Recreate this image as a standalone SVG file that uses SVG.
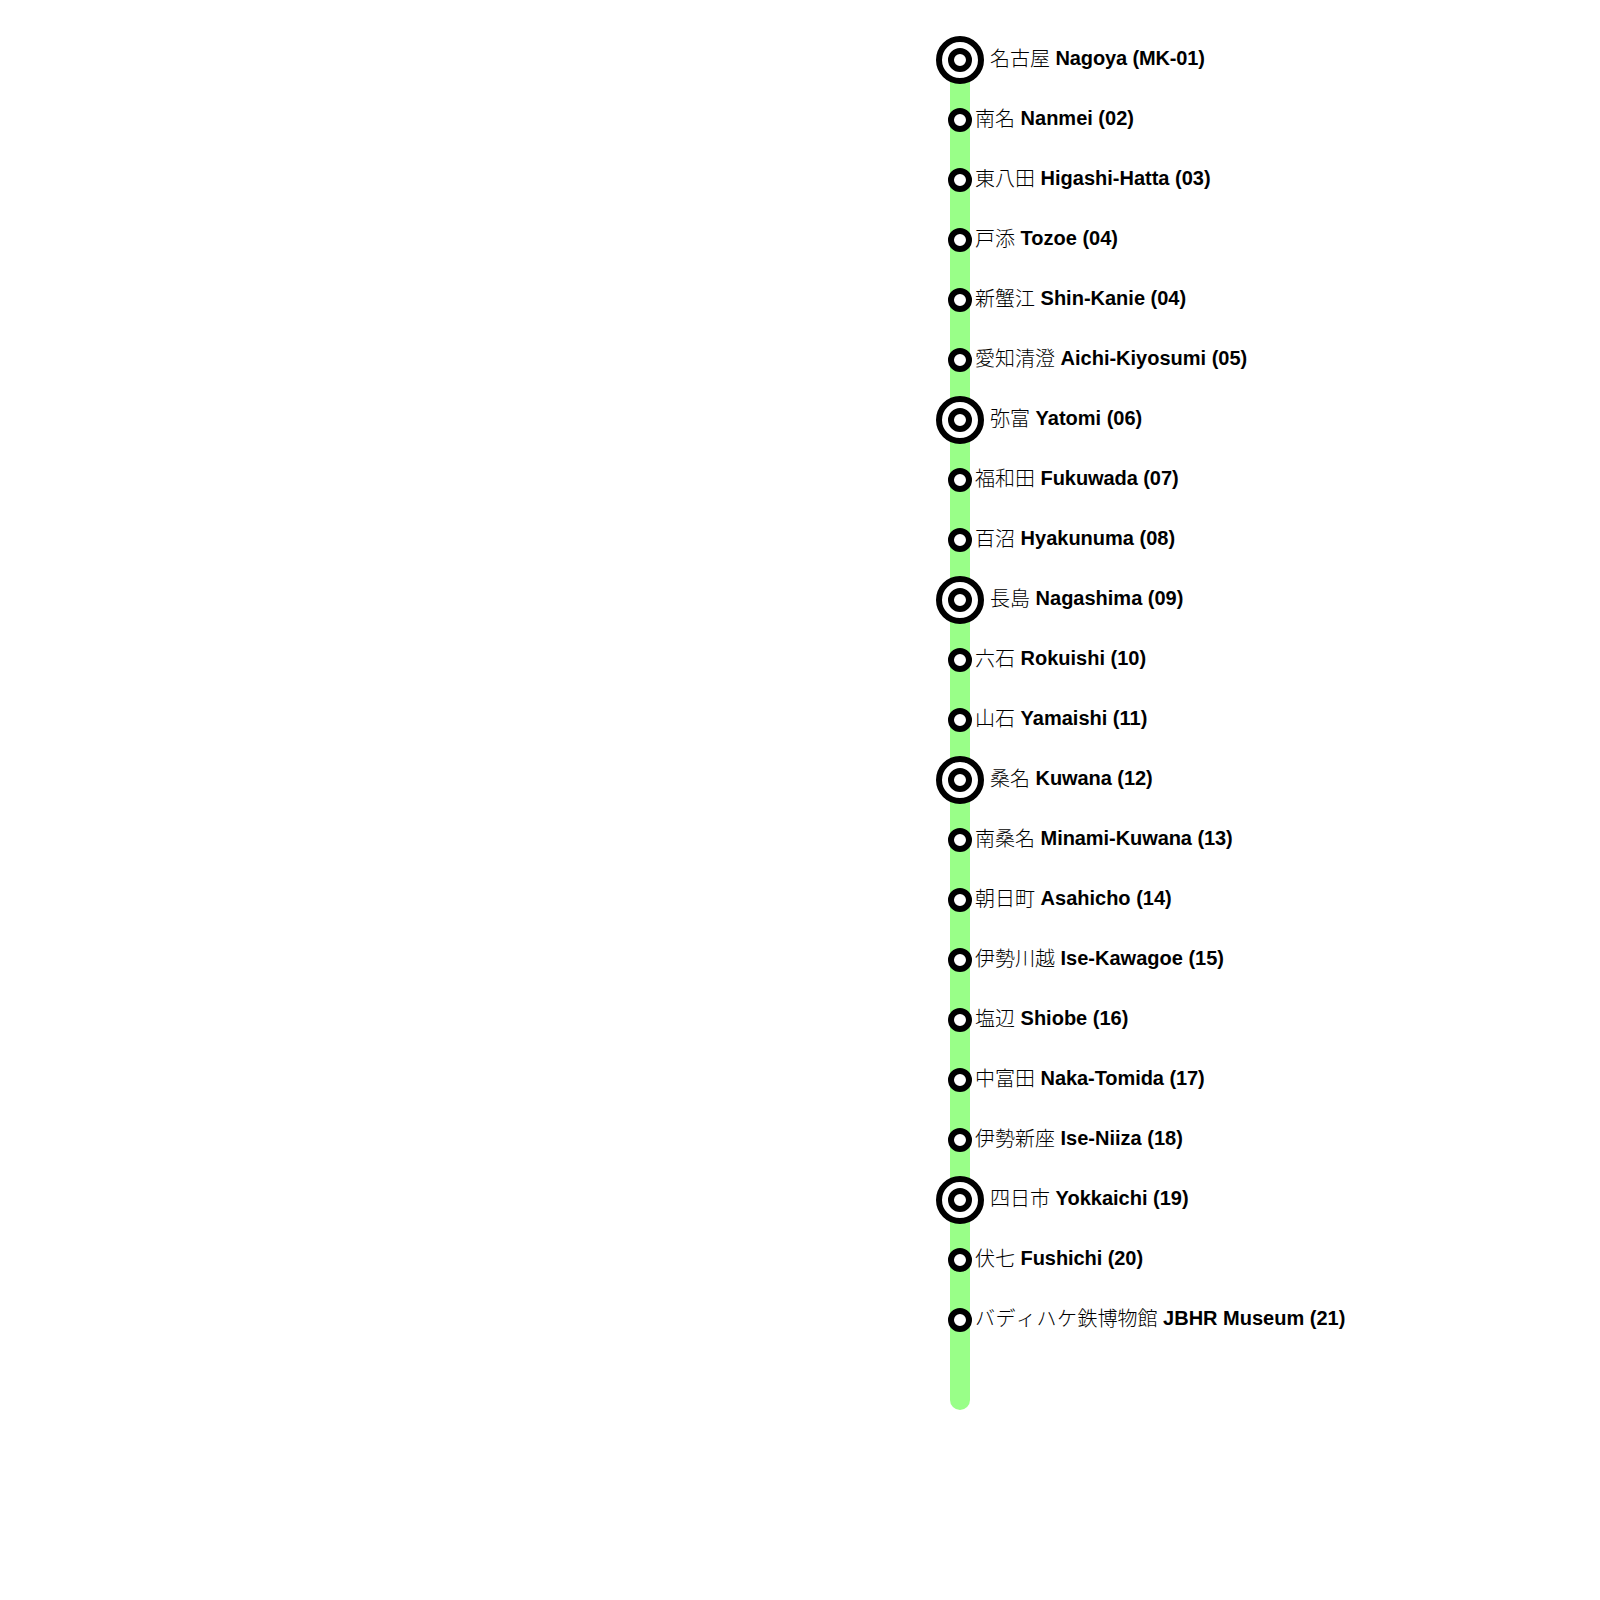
<svg xmlns="http://www.w3.org/2000/svg" width="1600" height="1600" viewBox="0 0 1600 1600">
<style>
.line{fill:none;stroke:#9f8;stroke-width:20;stroke-linecap:round}
.ring{fill:#fff;stroke:#000;stroke-width:6}
.label{font-family:"Liberation Sans","Noto Sans CJK JP",sans-serif;font-size:20px;fill:#000}
.ja{font-family:"Noto Sans CJK JP",sans-serif;font-weight:300;font-kerning:none}
.en{font-weight:bold}
.t1{letter-spacing:-.07px}
.t2{letter-spacing:-.14px}
</style>
<rect width="1600" height="1600" fill="#fff"/>
<g id="connectors"><path class="line" d="M960 60V1400"/></g>
<g id="s01"><circle class="ring" cx="960" cy="60" r="21"/><circle class="ring" cx="960" cy="60" r="9"/><text class="label" x="990" y="65"><tspan class="ja" dy="1">名古屋</tspan> <tspan class="en t2" dy="-1">Nagoya (MK-01)</tspan></text></g>
<g id="s02"><circle class="ring" cx="960" cy="120" r="9"/><text class="label" x="975" y="125"><tspan class="ja" dy="1">南名</tspan> <tspan class="en" dy="-1">Nanmei (02)</tspan></text></g>
<g id="s03"><circle class="ring" cx="960" cy="180" r="9"/><text class="label" x="975" y="185"><tspan class="ja" dy="1">東八田</tspan> <tspan class="en" dy="-1">Higashi-Hatta (03)</tspan></text></g>
<g id="s04"><circle class="ring" cx="960" cy="240" r="9"/><text class="label" x="975" y="245"><tspan class="ja" dy="1">戸添</tspan> <tspan class="en" dy="-1">Tozoe (04)</tspan></text></g>
<g id="s05"><circle class="ring" cx="960" cy="300" r="9"/><text class="label" x="975" y="305"><tspan class="ja" dy="1">新蟹江</tspan> <tspan class="en" dy="-1">Shin-Kanie (04)</tspan></text></g>
<g id="s06"><circle class="ring" cx="960" cy="360" r="9"/><text class="label" x="975" y="365"><tspan class="ja" dy="1">愛知清澄</tspan> <tspan class="en" dy="-1">Aichi-Kiyosumi (05)</tspan></text></g>
<g id="s07"><circle class="ring" cx="960" cy="420" r="21"/><circle class="ring" cx="960" cy="420" r="9"/><text class="label" x="990" y="425"><tspan class="ja" dy="1">弥富</tspan> <tspan class="en" dy="-1">Yatomi (06)</tspan></text></g>
<g id="s08"><circle class="ring" cx="960" cy="480" r="9"/><text class="label" x="975" y="485"><tspan class="ja" dy="1">福和田</tspan> <tspan class="en t1" dy="-1">Fukuwada (07)</tspan></text></g>
<g id="s09"><circle class="ring" cx="960" cy="540" r="9"/><text class="label" x="975" y="545"><tspan class="ja" dy="1">百沼</tspan> <tspan class="en" dy="-1">Hyakunuma (08)</tspan></text></g>
<g id="s10"><circle class="ring" cx="960" cy="600" r="21"/><circle class="ring" cx="960" cy="600" r="9"/><text class="label" x="990" y="605"><tspan class="ja" dy="1">長島</tspan> <tspan class="en" dy="-1">Nagashima (09)</tspan></text></g>
<g id="s11"><circle class="ring" cx="960" cy="660" r="9"/><text class="label" x="975" y="665"><tspan class="ja" dy="1">六石</tspan> <tspan class="en" dy="-1">Rokuishi (10)</tspan></text></g>
<g id="s12"><circle class="ring" cx="960" cy="720" r="9"/><text class="label" x="975" y="725"><tspan class="ja" dy="1">山石</tspan> <tspan class="en" dy="-1">Yamaishi (11)</tspan></text></g>
<g id="s13"><circle class="ring" cx="960" cy="780" r="21"/><circle class="ring" cx="960" cy="780" r="9"/><text class="label" x="990" y="785"><tspan class="ja" dy="1">桑名</tspan> <tspan class="en t1" dy="-1">Kuwana (12)</tspan></text></g>
<g id="s14"><circle class="ring" cx="960" cy="840" r="9"/><text class="label" x="975" y="845"><tspan class="ja" dy="1">南桑名</tspan> <tspan class="en t1" dy="-1">Minami-Kuwana (13)</tspan></text></g>
<g id="s15"><circle class="ring" cx="960" cy="900" r="9"/><text class="label" x="975" y="905"><tspan class="ja" dy="1">朝日町</tspan> <tspan class="en" dy="-1">Asahicho (14)</tspan></text></g>
<g id="s16"><circle class="ring" cx="960" cy="960" r="9"/><text class="label" x="975" y="965"><tspan class="ja" dy="1">伊勢川越</tspan> <tspan class="en" dy="-1">Ise-Kawagoe (15)</tspan></text></g>
<g id="s17"><circle class="ring" cx="960" cy="1020" r="9"/><text class="label" x="975" y="1025"><tspan class="ja" dy="1">塩辺</tspan> <tspan class="en" dy="-1">Shiobe (16)</tspan></text></g>
<g id="s18"><circle class="ring" cx="960" cy="1080" r="9"/><text class="label" x="975" y="1085"><tspan class="ja" dy="1">中富田</tspan> <tspan class="en t1" dy="-1">Naka-Tomida (17)</tspan></text></g>
<g id="s19"><circle class="ring" cx="960" cy="1140" r="9"/><text class="label" x="975" y="1145"><tspan class="ja" dy="1">伊勢新座</tspan> <tspan class="en" dy="-1">Ise-Niiza (18)</tspan></text></g>
<g id="s20"><circle class="ring" cx="960" cy="1200" r="21"/><circle class="ring" cx="960" cy="1200" r="9"/><text class="label" x="990" y="1205"><tspan class="ja" dy="1">四日市</tspan> <tspan class="en" dy="-1">Yokkaichi (19)</tspan></text></g>
<g id="s21"><circle class="ring" cx="960" cy="1260" r="9"/><text class="label" x="975" y="1265"><tspan class="ja" dy="1">伏七</tspan> <tspan class="en t1" dy="-1">Fushichi (20)</tspan></text></g>
<g id="s22"><circle class="ring" cx="960" cy="1320" r="9"/><text class="label" x="975" y="1325"><tspan class="ja" dy="1" x="975 995.5 1016 1036.5 1057 1077.5 1097.5 1117.5 1137.5">バディハケ鉄博物館</tspan> <tspan class="en" dy="-1">JBHR Museum (21)</tspan></text></g>
</svg>
